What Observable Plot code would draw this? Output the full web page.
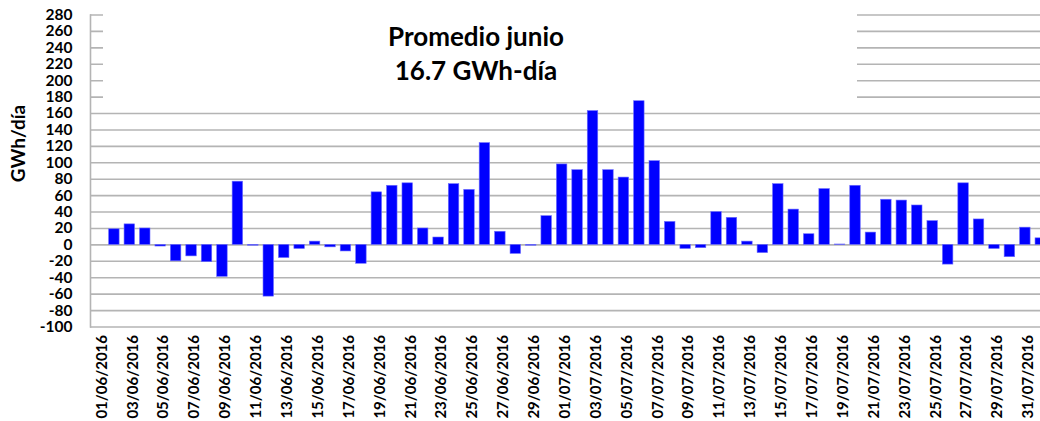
<!DOCTYPE html>
<html>
<head>
<meta charset="utf-8">
<script src="https://cdn.jsdelivr.net/npm/d3@7"></script>
<script src="https://cdn.jsdelivr.net/npm/@observablehq/plot@0.6"></script>
<style>
  html, body { margin: 0; padding: 0; background: #fff; overflow: hidden; }
  #wrap { position: relative; width: 1040px; height: 421px; overflow: hidden; }
  #titlebox {
    position: absolute; left: 103px; top: 0; width: 754px; height: 99px;
    background: #fff; text-align: center; box-sizing: border-box;
    padding-top: 19px; padding-right: 8px;
    font-family: Lato, "Liberation Sans", sans-serif; font-weight: bold;
    font-size: 26px; line-height: 34px; color: #000;
  }
</style>
</head>
<body>
<div id="wrap"><div id="titlebox">Promedio junio<br>16.7 GWh-día</div></div>
<script>
// Categories: daily dates 01/06/2016 .. 01/08/2016
const dates = d3.utcDays(new Date(Date.UTC(2016, 5, 1)), new Date(Date.UTC(2016, 7, 2)))
  .map(d3.utcFormat("%d/%m/%Y"));

// Daily values (GWh/día); first day has no bar
const values = [null,
  19, 25, 20, -2, -20, -14, -21, -39, 77, -1,
  -63, -16, -5, 4, -3, -8, -23, 64, 72, 75,
  20, 9, 74, 67, 124, 16, -11, -1, 35, 98,
  91, 163, 91, 82, 175, 102, 28, -5, -4, 40,
  33, 4, -10, 74, 43, 13, 68, 0.5, 72, 15,
  55, 54, 48, 29, -24, 75, 31, -5, -15, 21,
  8];

// Labeled x ticks
const tickLabels = [
  "01/06/2016","03/06/2016","05/06/2016","07/06/2016","09/06/2016","11/06/2016",
  "13/06/2016","15/06/2016","17/06/2016","19/06/2016","21/06/2016","23/06/2016",
  "25/06/2016","27/06/2016","29/06/2016","01/07/2016","03/07/2016","05/07/2016",
  "07/07/2016","09/07/2016","11/07/2016","13/07/2016","15/07/2016","17/07/2016",
  "19/07/2016","21/07/2016","23/07/2016","25/07/2016","27/07/2016","29/07/2016",
  "31/07/2016"];

const yTicks = d3.range(-100, 281, 20);
const yLabel = "GWh/día";

const data = dates.map((d, i) => ({date: d, value: values[i]})).filter(d => d.value != null);

const font = "Lato, 'Liberation Sans', sans-serif";

const chart = Plot.plot({
  width: 1040,
  height: 421,
  marginLeft: 90,
  marginRight: 0,
  marginTop: 14.5,
  marginBottom: 94.5,
  style: {fontFamily: font, background: "transparent", overflow: "hidden"},
  x: {type: "band", domain: dates, range: [90.7, 1048], paddingInner: 0.32, paddingOuter: 0.16, round: false},
  y: {domain: [-100, 280]},
  marks: [
    Plot.ruleY(yTicks, {stroke: "#b4b4b4", strokeWidth: 1.6}),
    Plot.frame({anchor: "left", stroke: "#b4b4b4", strokeWidth: 1.6}),
    Plot.barY(data, {x: "date", y: "value", fill: "#0000ff", stroke: "#6f6fff", strokeWidth: 0.6}),
    Plot.axisY({ticks: yTicks, tickSize: 0, tickPadding: 18, tickFormat: d => String(d),
      fontSize: 15.5, fontWeight: "bold", fill: "#000", label: null}),
    Plot.axisX({ticks: tickLabels, tickSize: 0, tickRotate: -90, tickPadding: 8,
      textAnchor: "end", lineAnchor: "middle", dx: 3, fontSize: 15, fontWeight: "bold", fill: "#000", label: null}),
    Plot.text([yLabel], {text: d => d, frameAnchor: "left", textAnchor: "middle", rotate: -90, dx: -72, dy: -27.5,
      fontSize: 19, fontWeight: "bold", fill: "#000"})
  ]
});
document.getElementById("wrap").prepend(chart);
</script>
</body>
</html>
